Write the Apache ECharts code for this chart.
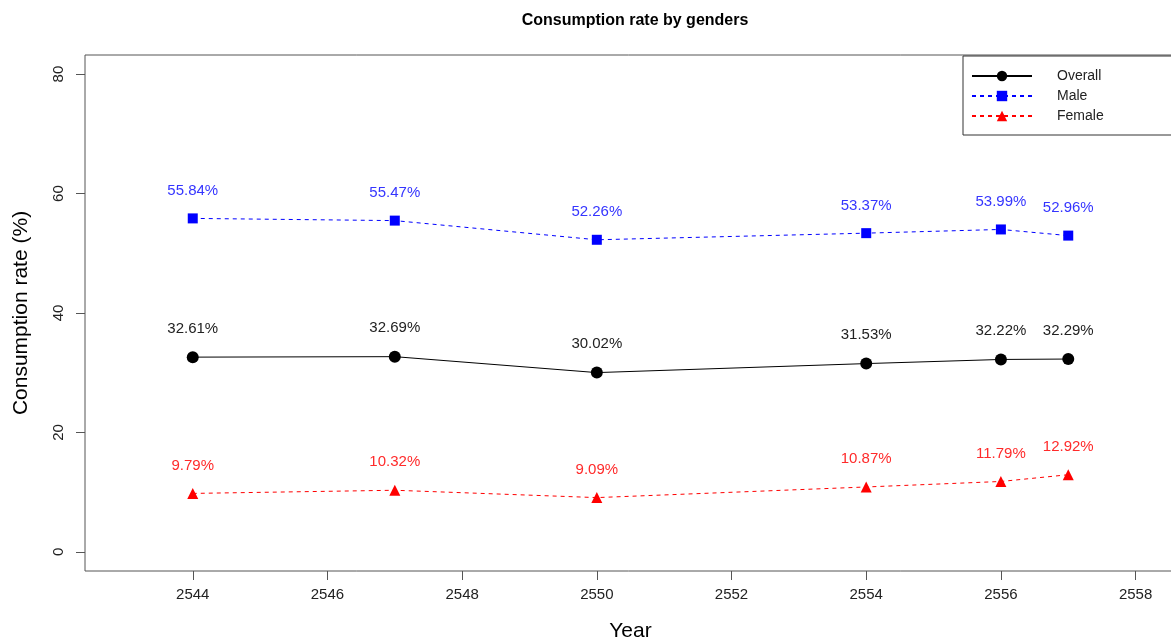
<!DOCTYPE html>
<html>
<head>
<meta charset="utf-8">
<script src="https://cdn.jsdelivr.net/npm/echarts@6/dist/echarts.min.js"></script>
<style>html,body{margin:0;padding:0;background:#fff;overflow:hidden}#c{width:1171px;height:642px}</style>
</head>
<body>
<div id="c"></div>
<script>
const years = [2544, 2547, 2550, 2554, 2556, 2557];
const overall = [32.61, 32.69, 30.02, 31.53, 32.22, 32.29];
const male = [55.84, 55.47, 52.26, 53.37, 53.99, 52.96];
const female = [9.79, 10.32, 9.09, 10.87, 11.79, 12.92];
const xTicks = [2544, 2546, 2548, 2550, 2552, 2554, 2556, 2558];
const yTicks = [0, 20, 40, 60, 80];

const FONT = '"Liberation Sans", Arial, sans-serif';
function pts(vals){ return years.map((y,i)=>[y, vals[i]]); }
function lbl(color){
  return {show:true, position:'top', distance:15, color:color, fontSize:15, fontFamily:FONT,
          formatter:p=>p.value[1].toFixed(2)+'%'};
}
const chart = echarts.init(document.getElementById('c'), null, {renderer:'canvas'});
chart.setOption({
  animation:false,
  backgroundColor:'#fff',
  title:{text:'Consumption rate by genders', left:630, top:8, textAlign:'center',
    textStyle:{fontFamily:FONT, fontSize:16, fontWeight:'bold', color:'#000'}},
  grid:{left:85, top:55, right:-5, bottom:71, show:true, borderColor:'#555', borderWidth:1,
    containLabel:false, outerBoundsMode:'none'},
  legend:{
    left:963, top:56, orient:'vertical', itemWidth:60, itemHeight:13, itemGap:6,
    borderColor:'#333', borderWidth:1, padding:[13,200,12,8],
    textStyle:{fontFamily:FONT, fontSize:14, color:'#222', padding:[0,0,0,20]},
    data:['Overall','Male','Female']
  },
  xAxis:{type:'value', min:2542.4, max:2558.6,
    name:'Year', nameLocation:'middle', nameGap:50,
    nameTextStyle:{fontFamily:FONT, fontSize:21, color:'#000'},
    axisLine:{show:false, onZero:false}, splitLine:{show:false},
    axisTick:{show:true, length:9, customValues:xTicks, lineStyle:{color:'#555'}},
    axisLabel:{customValues:xTicks, margin:16, fontFamily:FONT, fontSize:15, color:'#222',
      formatter:v=>String(v)}
  },
  yAxis:{type:'value', min:-3.2, max:83.2,
    name:'Consumption rate (%)', nameLocation:'middle', nameGap:53,
    nameTextStyle:{fontFamily:FONT, fontSize:21, color:'#000'},
    axisLine:{show:false, onZero:false}, splitLine:{show:false},
    axisTick:{show:true, length:9, customValues:yTicks, lineStyle:{color:'#555'}},
    axisLabel:{customValues:yTicks, rotate:90, margin:19, fontFamily:FONT, fontSize:15, color:'#222'}
  },
  series:[
    {name:'Overall', type:'line', data:pts(overall), symbol:'circle', symbolSize:12,
     itemStyle:{color:'#000'}, lineStyle:{color:'#000', width:1, type:'solid'}, label:lbl('#222')},
    {name:'Male', type:'line', data:pts(male), symbol:'rect', symbolSize:10,
     itemStyle:{color:'#0000ff'}, lineStyle:{color:'#0000ff', width:1, type:[4,4]}, label:lbl('#3535ff')},
    {name:'Female', type:'line', data:pts(female), symbol:'triangle', symbolSize:11,
     itemStyle:{color:'#ff0000'}, lineStyle:{color:'#ff0000', width:1, type:[4,4]}, label:lbl('#ff2a2a')}
  ]
});
</script>
</body>
</html>
